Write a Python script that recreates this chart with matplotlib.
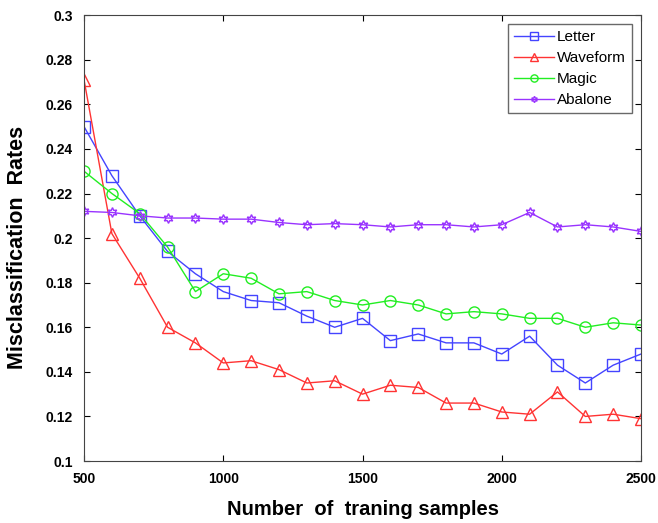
import matplotlib
matplotlib.use('Agg')
import matplotlib.pyplot as plt

samples = list(range(500, 2501, 100))

letter = [0.250, 0.228, 0.210, 0.194, 0.184, 0.176, 0.172, 0.171, 0.165, 0.160, 0.164,
          0.154, 0.157, 0.153, 0.153, 0.148, 0.156, 0.143, 0.135, 0.143, 0.148]
waveform = [0.271, 0.202, 0.182, 0.160, 0.153, 0.144, 0.145, 0.141, 0.135, 0.136, 0.130,
            0.134, 0.133, 0.126, 0.126, 0.122, 0.121, 0.131, 0.120, 0.121, 0.119]
magic = [0.230, 0.220, 0.211, 0.196, 0.176, 0.184, 0.182, 0.175, 0.176, 0.172, 0.170,
         0.172, 0.170, 0.166, 0.167, 0.166, 0.164, 0.164, 0.160, 0.162, 0.161]
abalone = [0.212, 0.2115, 0.210, 0.209, 0.209, 0.2085, 0.2085, 0.207, 0.206, 0.2065, 0.206,
           0.205, 0.206, 0.206, 0.205, 0.206, 0.2115, 0.205, 0.206, 0.205, 0.203]

plt.rcParams['font.family'] = ['Liberation Sans', 'DejaVu Sans']

fig = plt.figure(figsize=(6.58, 5.23), dpi=100)
ax = fig.add_axes([0.1277, 0.1185, 0.8465, 0.8525])

ax.plot(samples, letter, color='#4444ff', lw=1, marker='s', ms=8, mfc='none', mew=1, label='Letter')
ax.plot(samples, waveform, color='#ff3333', lw=1, marker='^', ms=9, mfc='none', mew=1, label='Waveform')
ax.plot(samples, magic, color='#22ee22', lw=1, marker='o', ms=8, mfc='none', mew=1, label='Magic')
ax.plot(samples, abalone, color='#9933ff', lw=1, marker=(6, 1, 0), ms=7, mfc='none', mew=1, label='Abalone')

ax.set_xlim(500, 2500)
ax.set_ylim(0.1, 0.3)
ax.set_xticks([500, 1000, 1500, 2000, 2500])
ax.set_yticks([0.1, 0.12, 0.14, 0.16, 0.18, 0.2, 0.22, 0.24, 0.26, 0.28, 0.3])
ax.set_yticklabels(['0.1', '0.12', '0.14', '0.16', '0.18', '0.2', '0.22', '0.24', '0.26', '0.28', '0.3'])
ax.tick_params(direction='in', top=True, right=True, length=4, labelsize=10, pad=8)
for lbl in ax.get_xticklabels() + ax.get_yticklabels():
    lbl.set_fontweight('bold')
for s in ax.spines.values():
    s.set_color('#444444')

ax.set_xlabel('Number  of  traning samples', fontsize=14.5, fontweight='bold', labelpad=10)
ax.set_ylabel('Misclassification  Rates', fontsize=15.5, fontweight='bold')
ax.yaxis.set_label_coords(-0.1, 0.48)

leg = ax.legend(loc='upper right', fontsize=11, fancybox=False, edgecolor='#444444',
                handlelength=2.6, borderpad=0.4, labelspacing=0.45, markerscale=0.65,
                handletextpad=0.2, borderaxespad=0.6)
leg.get_frame().set_linewidth(1)

fig.savefig('out.png', dpi=100)
